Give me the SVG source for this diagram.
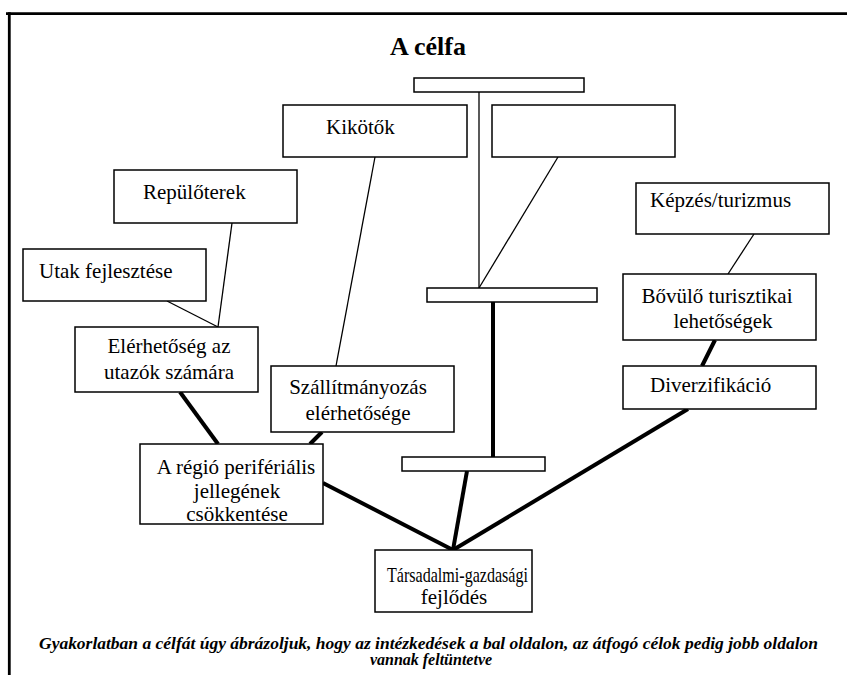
<svg xmlns="http://www.w3.org/2000/svg" width="847" height="675" viewBox="0 0 847 675" font-family="'Liberation Serif', 'Times New Roman', serif">
  <style>
    .box { fill: #fff; stroke: #000; stroke-width: 1.5; }
    .bar { fill: #fff; stroke: #000; stroke-width: 1.5; }
    text { font-family: 'Liberation Serif', 'Times New Roman', serif; fill: #000; }
    .lbl { font-size: 21px; }
    .mid { text-anchor: middle; }
    .thin { stroke: #000; stroke-width: 1.3; fill: none; }
    .thick { stroke: #000; stroke-width: 4; fill: none; }
    .title { font-size: 26px; font-weight: bold; text-anchor: middle; }
    .note { font-size: 16px; font-weight: bold; font-style: italic; }
  </style>
  <rect width="847" height="675" fill="#fff"/>

  <!-- page frame -->
  <g id="frame" stroke="#000" stroke-width="2.8">
    <line x1="6" y1="13.7" x2="847" y2="13.7"/>
    <line x1="9.3" y1="12.3" x2="9.3" y2="675"/>
  </g>

  <text class="title" x="428" y="55">A célfa</text>

  <!-- connectors -->
  <g id="connectors">
    <line class="thin" x1="232" y1="223" x2="218" y2="327"/>
    <line class="thin" x1="167" y1="301" x2="218" y2="327"/>
    <line class="thin" x1="375" y1="157" x2="336" y2="366"/>
    <line class="thin" x1="479" y1="92" x2="479" y2="288"/>
    <line class="thin" x1="558" y1="157" x2="479" y2="288"/>
    <line class="thin" x1="754" y1="234" x2="728" y2="274"/>
    <line class="thick" x1="180" y1="392" x2="218" y2="444"/>
    <line class="thick" x1="322" y1="432" x2="310" y2="444"/>
    <line class="thick" x1="323" y1="483" x2="453" y2="550"/>
    <line class="thick" x1="467" y1="471" x2="453" y2="550"/>
    <line class="thick" x1="688" y1="409" x2="453" y2="550"/>
    <line class="thick" x1="493" y1="302" x2="493" y2="457"/>
    <line class="thick" x1="715" y1="340" x2="702" y2="366"/>
  </g>

  <g id="bar-top"><rect class="bar" x="414" y="78" width="170" height="14"/></g>
  <g id="bar-mid"><rect class="bar" x="427" y="288" width="170" height="14"/></g>
  <g id="bar-low"><rect class="bar" x="402" y="457" width="143" height="14"/></g>

  <g id="kikotok">
    <rect class="box" x="283" y="105" width="184" height="52"/>
    <text class="lbl" x="326" y="134">Kikötők</text>
  </g>
  <g id="ures">
    <rect class="box" x="492" y="105" width="183" height="52"/>
  </g>
  <g id="repuloterek">
    <rect class="box" x="114" y="170" width="183" height="53"/>
    <text class="lbl" x="143" y="199">Repülőterek</text>
  </g>
  <g id="utak">
    <rect class="box" x="23" y="249" width="183" height="52"/>
    <text class="lbl" x="39" y="278">Utak fejlesztése</text>
  </g>
  <g id="elerhetoseg">
    <rect class="box" x="75" y="327" width="183" height="65"/>
    <text class="lbl mid" x="169" y="353">Elérhetőség az</text>
    <text class="lbl mid" x="169" y="379">utazók számára</text>
  </g>
  <g id="szallitmanyozas">
    <rect class="box" x="271" y="366" width="183" height="66"/>
    <text class="lbl mid" x="358" y="394">Szállítmányozás</text>
    <text class="lbl mid" x="358" y="420">elérhetősége</text>
  </g>
  <g id="regio">
    <rect class="box" x="140" y="444" width="183" height="80"/>
    <text class="lbl mid" x="236" y="474">A régió perifériális</text>
    <text class="lbl mid" x="237" y="498">jellegének</text>
    <text class="lbl mid" x="237" y="521">csökkentése</text>
  </g>
  <g id="kepzes">
    <rect class="box" x="636" y="183" width="193" height="51"/>
    <text class="lbl" x="650" y="207">Képzés/turizmus</text>
  </g>
  <g id="bovulo">
    <rect class="box" x="623" y="274" width="193" height="66"/>
    <text class="lbl mid" x="717" y="303">Bővülő turisztikai</text>
    <text class="lbl mid" x="723" y="328">lehetőségek</text>
  </g>
  <g id="diverzifikacio">
    <rect class="box" x="623" y="366" width="193" height="43"/>
    <text class="lbl" x="650" y="392">Diverzifikáció</text>
  </g>
  <g id="tarsadalmi">
    <rect class="box" x="375" y="550" width="157" height="62"/>
    <text class="lbl" x="387" y="582" textLength="141" lengthAdjust="spacingAndGlyphs">Társadalmi-gazdasági</text>
    <text class="lbl mid" x="454" y="604">fejlődés</text>
  </g>

  <g id="megjegyzes">
    <text class="note" x="39" y="649" textLength="779" lengthAdjust="spacingAndGlyphs">Gyakorlatban a célfát úgy ábrázoljuk, hogy az intézkedések a bal oldalon, az átfogó célok pedig jobb oldalon</text>
    <text class="note" x="431" y="665" text-anchor="middle">vannak feltüntetve</text>
  </g>
</svg>
